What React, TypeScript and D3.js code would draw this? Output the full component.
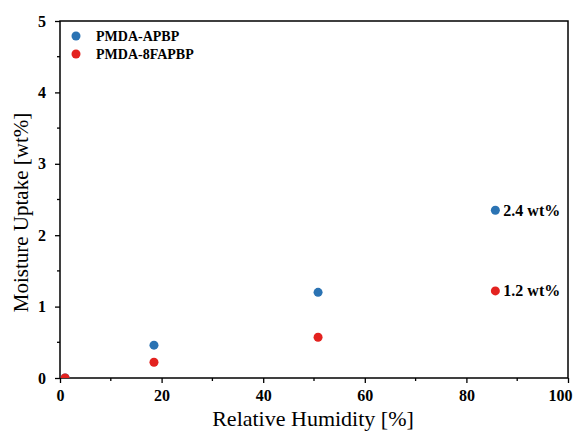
import { useEffect, useRef } from "react";
import * as d3 from "d3";

const humidity = [1, 18.5, 50.8, 85.7];
const apbpUptake = [0, 0.46, 1.2, 2.35];
const fapbpUptake = [0, 0.22, 0.57, 1.22];
const seriesNames = ["PMDA-APBP", "PMDA-8FAPBP"];
const seriesColors = ["#2b73b3", "#e3221f"];
const endLabels = ["2.4 wt%", "1.2 wt%"];
const xTicks = [0, 20, 40, 60, 80, 100];
const yTicks = [0, 1, 2, 3, 4, 5];

const W = 573;
const H = 434;
const FONT = "'Liberation Serif', 'DejaVu Serif', serif";

const App = () => {
  const ref = useRef<SVGSVGElement>(null);

  useEffect(() => {
    const svg = d3.select(ref.current);
    svg.selectAll("*").remove();

    const margin = { top: 21, right: 5, bottom: 56, left: 60 };
    const innerW = W - margin.left - margin.right;
    const innerH = H - margin.top - margin.bottom;

    const x = d3.scaleLinear().domain([0, 100]).range([0, innerW]);
    const y = d3.scaleLinear().domain([0, 5]).range([innerH, 0]);

    svg
      .append("defs")
      .append("clipPath")
      .attr("id", "plot-clip")
      .append("rect")
      .attr("width", innerW)
      .attr("height", innerH);

    const g = svg
      .append("g")
      .attr("transform", `translate(${margin.left},${margin.top})`);

    // minor ticks
    const minorX = d3.range(10, 100, 20);
    g.selectAll("line.mx")
      .data(minorX)
      .enter()
      .append("line")
      .attr("x1", (d) => x(d))
      .attr("x2", (d) => x(d))
      .attr("y1", innerH)
      .attr("y2", innerH + 3)
      .attr("stroke", "#000")
      .attr("stroke-width", 1.3);
    const minorY = d3.range(0.5, 5, 1);
    g.selectAll("line.my")
      .data(minorY)
      .enter()
      .append("line")
      .attr("x1", -3)
      .attr("x2", 0)
      .attr("y1", (d) => y(d))
      .attr("y2", (d) => y(d))
      .attr("stroke", "#000")
      .attr("stroke-width", 1.3);

    const xAxis = g
      .append("g")
      .attr("transform", `translate(0,${innerH})`)
      .call(d3.axisBottom(x).tickValues(xTicks).tickSize(5).tickPadding(7).tickFormat(d3.format("d")));
    const yAxis = g
      .append("g")
      .call(d3.axisLeft(y).tickValues(yTicks).tickSize(5).tickPadding(9).tickFormat(d3.format("d")));

    [xAxis, yAxis].forEach((a) => {
      a.select(".domain").remove();
      a.selectAll("line").attr("stroke-width", 1.3);
      a.selectAll("text")
        .attr("font-family", FONT)
        .attr("font-size", 16)
        .attr("font-weight", "bold")
        .attr("fill", "#000");
    });
    // last x tick label sits flush with the right edge
    xAxis
      .selectAll<SVGTextElement, number>("text")
      .filter((d) => d === 100)
      .attr("text-anchor", "end")
      .attr("dx", 4);

    g.append("rect")
      .attr("width", innerW)
      .attr("height", innerH)
      .attr("fill", "none")
      .attr("stroke", "#000")
      .attr("stroke-width", 1.5);

    const series = [apbpUptake, fapbpUptake];
    const pts = g.append("g").attr("clip-path", "url(#plot-clip)");
    series.forEach((vals, i) => {
      pts
        .selectAll(`circle.s${i}`)
        .data(vals)
        .enter()
        .append("circle")
        .attr("cx", (_, j) => x(humidity[j]))
        .attr("cy", (d) => y(d))
        .attr("r", 4.5)
        .attr("fill", seriesColors[i]);
    });

    series.forEach((vals, i) => {
      const last = vals.length - 1;
      g.append("text")
        .attr("x", x(humidity[last]) + 8)
        .attr("y", y(vals[last]))
        .attr("dy", "0.35em")
        .attr("font-family", FONT)
        .attr("font-size", 16)
        .attr("font-weight", "bold")
        .text(endLabels[i]);
    });

    // legend
    seriesNames.forEach((name, i) => {
      const ly = 15 + i * 18;
      g.append("circle")
        .attr("cx", 16)
        .attr("cy", ly)
        .attr("r", 4.5)
        .attr("fill", seriesColors[i]);
      g.append("text")
        .attr("x", 36)
        .attr("y", ly)
        .attr("dy", "0.35em")
        .attr("font-family", FONT)
        .attr("font-size", 14)
        .attr("font-weight", "bold")
        .text(name);
    });

    svg
      .append("text")
      .attr("x", margin.left + innerW / 2 - 1)
      .attr("y", H - 8)
      .attr("text-anchor", "middle")
      .attr("font-family", FONT)
      .attr("font-size", 22)
      .text("Relative Humidity [%]");

    svg
      .append("text")
      .attr("transform", `translate(28,${margin.top + innerH / 2 + 13}) rotate(-90)`)
      .attr("text-anchor", "middle")
      .attr("font-family", FONT)
      .attr("font-size", 21)
      .text("Moisture Uptake [wt%]");
  }, []);

  return (
    <svg
      ref={ref}
      width={W}
      height={H}
      style={{ position: "absolute", left: 0, top: 0, background: "#fff" }}
    ></svg>
  );
};

export default App;
